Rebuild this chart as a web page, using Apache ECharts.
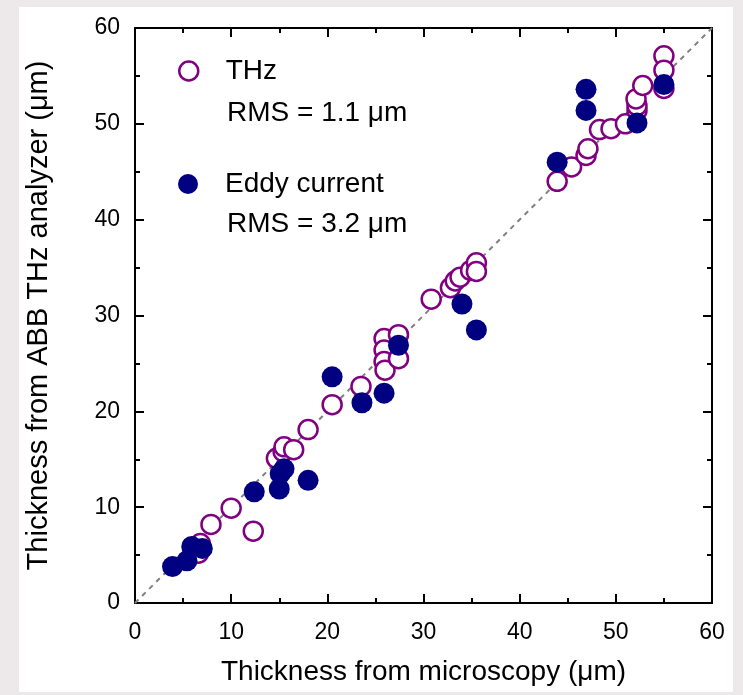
<!DOCTYPE html>
<html><head><meta charset="utf-8">
<script src="https://cdn.jsdelivr.net/npm/echarts@6/dist/echarts.min.js"></script>
<style>html,body{margin:0;padding:0;background:#ede8e9;}#c{width:743px;height:695px;}</style>
</head><body><div id="c"></div>
<script>
const thzX = [6.6,6.8,7.9,10.0,12.3,14.7,15.4,15.5,16.5,18.0,20.5,23.5,25.9,25.9,25.9,26.0,27.4,27.4,30.8,32.8,33.3,33.8,34.9,35.5,35.5,43.9,45.4,46.9,47.1,48.3,49.5,51.0,52.2,52.2,52.1,52.8,55.0,55.0,55.0];
const thzY = [5.2,6.2,8.2,9.9,7.5,15.1,15.8,16.3,16.0,18.1,20.7,22.6,27.6,26.4,25.2,24.3,28.0,25.5,31.7,32.9,33.6,34.0,34.7,35.5,34.6,44.0,45.5,46.7,47.4,49.4,49.5,50.0,51.4,51.9,52.6,54.0,57.1,55.6,53.7];
const eddyX = [3.9,5.4,5.9,7.0,12.4,15.0,15.1,15.5,18.0,20.5,23.6,25.9,27.4,34.0,35.5,43.9,46.9,46.9,52.2,55.0];
const eddyY = [3.8,4.4,5.9,5.7,11.6,11.9,13.5,14.0,12.8,23.6,20.9,21.9,26.9,31.2,28.5,46.0,53.6,51.4,50.1,54.1];
const lineX = [0,60];
const lineY = [0,60];
const xTicks = [0,10,20,30,40,50,60];
const seriesNames = ['THz','Eddy current'];
const rmsTexts = ['RMS = 1.1 \u03bcm','RMS = 3.2 \u03bcm'];
const xName = 'Thickness from microscopy (\u03bcm)';
const yName = 'Thickness from ABB THz analyzer (\u03bcm)';

const zip = (a,b)=>a.map((v,i)=>[v,b[i]]);
const chart = echarts.init(document.getElementById('c'), null, {renderer:'canvas'});
const font = 'Liberation Sans, Arial, sans-serif';
const axCommon = {
  min: 0, max: 60, interval: 10,
  axisLine: {show:true, onZero:false, lineStyle:{color:'#000', width:2}},
  axisTick: {show:true, inside:true, length:9, lineStyle:{color:'#000', width:2}},
  minorTick: {show:true, splitNumber:2, length:5, lineStyle:{color:'#000', width:2}},
  splitLine: {show:false}
};
const legText = {fontSize:28, lineHeight:30, fontFamily:font, color:'#000', padding:[0,0,0,22]};
chart.setOption({
  backgroundColor:'#ede8e9',
  animation:false,
  graphic:[
    {type:'rect', shape:{x:19,y:7,width:714,height:685}, style:{fill:'#ffffff'}, z:-10},
    {type:'text', left:227, top:99, style:{text:rmsTexts[0], font:'28px '+font, fill:'#000'}},
    {type:'text', left:227, top:210, style:{text:rmsTexts[1], font:'28px '+font, fill:'#000'}}
  ],
  grid:{left:135, right:31, top:28, bottom:92, containLabel:false},
  legend:[
    {data:[seriesNames[0]], left:173, top:51, orient:'vertical', itemWidth:20, itemHeight:19, itemGap:10,
     itemStyle:{borderWidth:2.5}, textStyle:legText},
    {data:[seriesNames[1]], left:173, top:164, orient:'vertical', itemWidth:20, itemHeight:21, itemGap:10,
     textStyle:legText}
  ],
  xAxis:[
    Object.assign({type:'value', position:'bottom', name:xName, nameLocation:'middle', nameGap:55,
      nameTextStyle:{fontSize:28, fontFamily:font, color:'#000'},
      axisLabel:{show:true, fontSize:23, fontFamily:font, color:'#000', margin:18,
        formatter:(v)=> xTicks.includes(v) ? String(v) : ''}}, axCommon),
    Object.assign({type:'value', position:'top', axisLabel:{show:false}}, axCommon)
  ],
  yAxis:[
    Object.assign({type:'value', position:'left', name:yName, nameLocation:'middle', nameGap:82,
      nameTextStyle:{fontSize:29, fontFamily:font, color:'#000'},
      axisLabel:{show:true, fontSize:23, fontFamily:font, color:'#000', margin:15}}, axCommon),
    Object.assign({type:'value', position:'right', axisLabel:{show:false}}, axCommon)
  ],
  series:[
    {type:'line', data:zip(lineX,lineY), symbol:'none', silent:true, z:1,
     lineStyle:{color:'#808080', width:2, type:[5,5]}},
    {name:seriesNames[0], type:'scatter', data:zip(thzX,thzY), symbol:'circle', symbolSize:19, z:2,
     itemStyle:{color:'#ffffff', borderColor:'#800080', borderWidth:2.5, opacity:1}},
    {name:seriesNames[1], type:'scatter', data:zip(eddyX,eddyY), symbol:'circle', symbolSize:21, z:3,
     itemStyle:{color:'#000080', opacity:1}}
  ]
});
</script></body></html>
